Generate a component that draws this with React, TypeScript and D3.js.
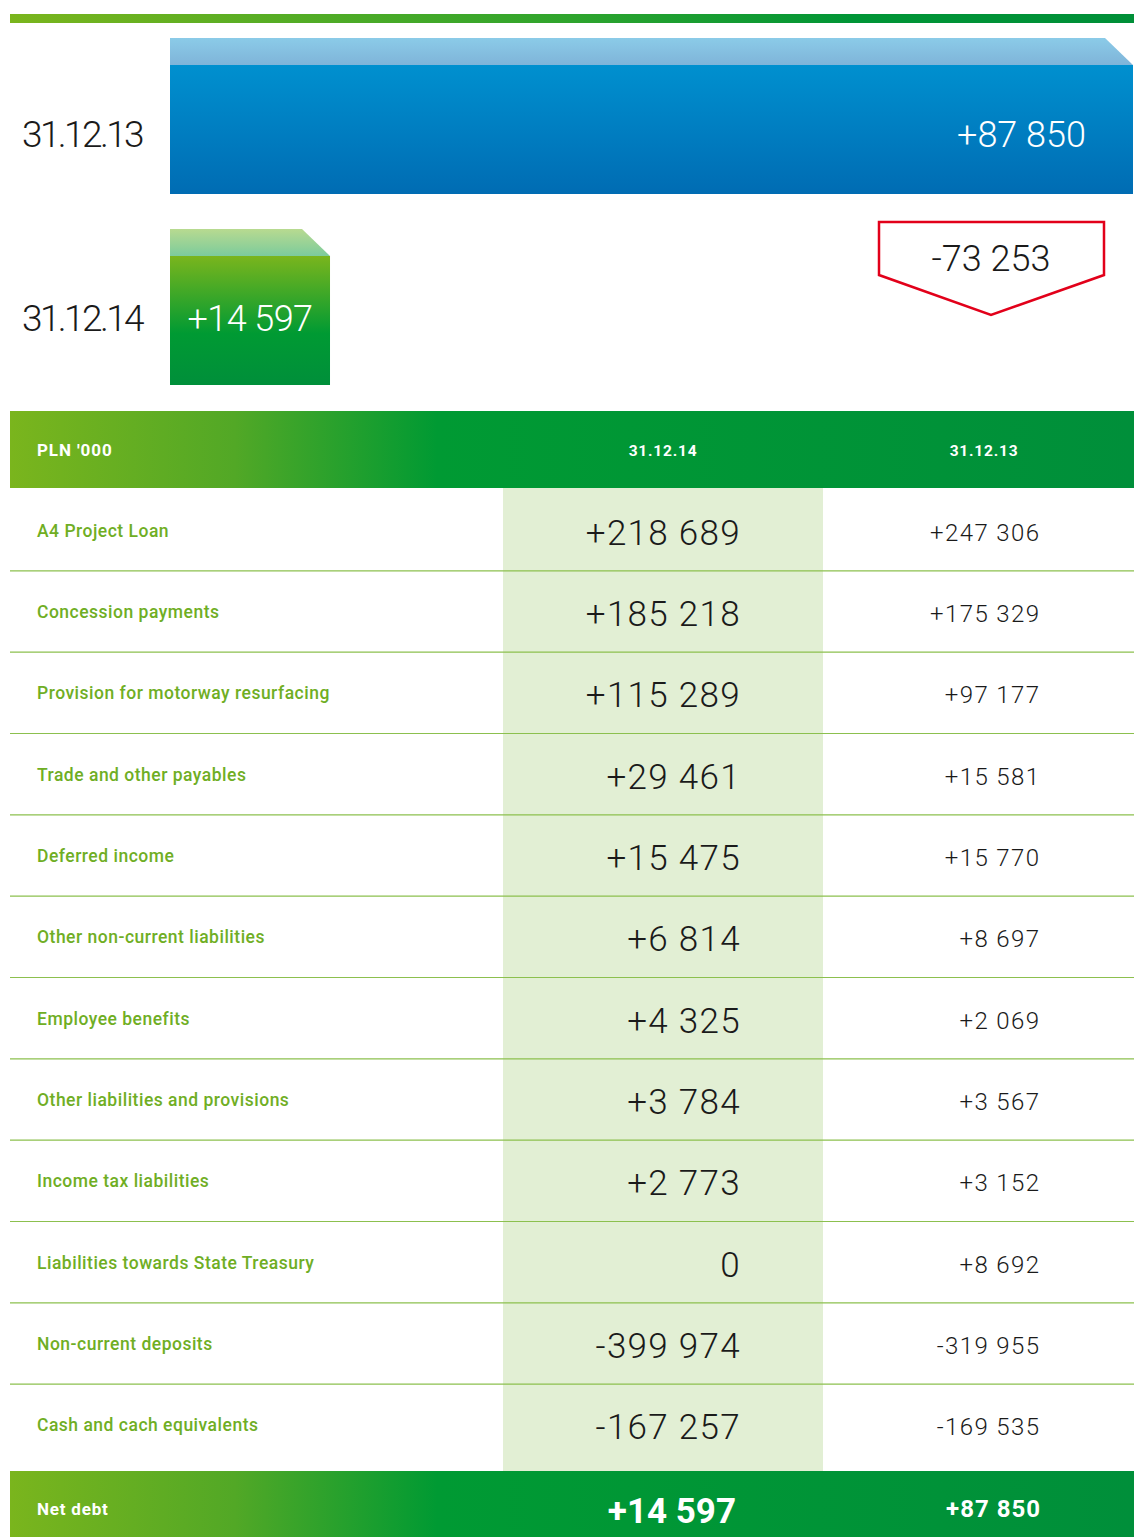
import React from "react";
import * as d3 from "d3";

const barDates = ["31.12.13", "31.12.14"];
const barValues = [87850, 14597];
const changeLabel = "-73 253";

const rowLabels = [
  "A4 Project Loan",
  "Concession payments",
  "Provision for motorway resurfacing",
  "Trade and other payables",
  "Deferred income",
  "Other non-current liabilities",
  "Employee benefits",
  "Other liabilities and provisions",
  "Income tax liabilities",
  "Liabilities towards State Treasury",
  "Non-current deposits",
  "Cash and cach equivalents",
];
const values2014 = ["+218 689", "+185 218", "+115 289", "+29 461", "+15 475", "+6 814", "+4 325", "+3 784", "+2 773", "0", "-399 974", "-167 257"];
const values2013 = ["+247 306", "+175 329", "+97 177", "+15 581", "+15 770", "+8 697", "+2 069", "+3 567", "+3 152", "+8 692", "-319 955", "-169 535"];
const headerLabels = ["PLN '000", "31.12.14", "31.12.13"];
const totalLabel = "Net debt";
const totals = ["+14 597", "+87 850"];

const FONT = "Roboto, 'Noto Sans', sans-serif";

export default function App() {
  const W = 1134, H = 1537;
  const x = d3.scaleLinear().domain([0, 87850]).range([170, 1133]);
  const barY = [65, 256];
  const dateBase = [82, 75];
  const barH = 129;
  const capH = 27;
  const capSlant = 28;
  const rows = d3.scaleBand<number>().domain(d3.range(rowLabels.length)).range([489.5, 1465.5]);
  const fmt = (v: number) => "+" + d3.format(",")(v).replace(",", " ");

  return (
    <svg width={W} height={H} style={{ position: "absolute", left: 0, top: 0 }} fontFamily={FONT}>
      <defs>
        <linearGradient id="stripe" x1="0" x2="1" y1="0" y2="0">
          <stop offset="0" stopColor="#7ab51d" />
          <stop offset="0.5" stopColor="#2ea42d" />
          <stop offset="0.75" stopColor="#009536" />
          <stop offset="1" stopColor="#008f38" />
        </linearGradient>
        <linearGradient id="hdr" gradientUnits="userSpaceOnUse" x1="10" x2="1134" y1="0" y2="0">
          <stop offset="0" stopColor="#7ab51d" />
          <stop offset="0.2" stopColor="#52a826" />
          <stop offset="0.38" stopColor="#009a33" />
          <stop offset="1" stopColor="#008f3a" />
        </linearGradient>
        <linearGradient id="blue" x1="0" x2="0" y1="0" y2="1">
          <stop offset="0" stopColor="#0090cf" />
          <stop offset="1" stopColor="#006cb3" />
        </linearGradient>
        <linearGradient id="bluecap" x1="0" x2="0" y1="0" y2="1">
          <stop offset="0" stopColor="#8bcbe8" />
          <stop offset="1" stopColor="#7fb4d9" />
        </linearGradient>
        <linearGradient id="green" x1="0" x2="0" y1="0" y2="1">
          <stop offset="0" stopColor="#7ab51d" />
          <stop offset="0.6" stopColor="#009a33" />
          <stop offset="1" stopColor="#008f3a" />
        </linearGradient>
        <linearGradient id="greencap" x1="0" x2="0" y1="0" y2="1">
          <stop offset="0" stopColor="#b8da90" />
          <stop offset="1" stopColor="#7ccb9c" />
        </linearGradient>
      </defs>

      <rect x={10} y={14} width={1124} height={9} fill="url(#stripe)" />

      {barValues.map((v, i) => {
        const x0 = x(0), x1 = x(v), y0 = barY[i];
        const cap = `M${x0},${y0 - capH}L${x1 - capSlant},${y0 - capH}L${x1},${y0}L${x0},${y0}Z`;
        const blue = i === 0;
        return (
          <g key={i}>
            <path d={cap} fill={blue ? "url(#bluecap)" : "url(#greencap)"} />
            <rect x={x0} y={y0} width={x1 - x0} height={barH} fill={blue ? "url(#blue)" : "url(#green)"} />
            <text x={22} y={y0 + dateBase[i]} fontSize={37} fill="#1a1a1a" fontWeight={300} letterSpacing={-2.6}>{barDates[i]}</text>
            <text
              x={blue ? x1 - 47 : (x0 + x1) / 2}
              y={y0 + dateBase[i]}
              fontSize={36}
              fill="#fff"
              fontWeight={300}
              textAnchor={blue ? "end" : "middle"}
              letterSpacing={blue ? 0 : -0.6}
            >
              {fmt(v)}
            </text>
          </g>
        );
      })}

      <path d="M879,222L1104,222L1104,275L991,315L879,275Z" fill="#fff" stroke="#e2001a" strokeWidth={2.5} />
      <text x={991} y={271} fontSize={36} fontWeight={300} textAnchor="middle" fill="#1a1a1a">{changeLabel}</text>

      <rect x={10} y={411} width={1124} height={77} fill="url(#hdr)" />
      <text x={37} y={456} fontSize={17} fontWeight={700} fill="#fff" letterSpacing={0.9}>{headerLabels[0]}</text>
      <text x={663} y={456} fontSize={15.5} fontWeight={700} fill="#fff" textAnchor="middle" letterSpacing={0.8}>{headerLabels[1]}</text>
      <text x={984} y={456} fontSize={15.5} fontWeight={700} fill="#fff" textAnchor="middle" letterSpacing={0.8}>{headerLabels[2]}</text>

      <rect x={503} y={488} width={320} height={983} fill="#e2efd4" />

      {rowLabels.map((lab, i) => {
        const y0 = rows(i)!;
        const bw = rows.bandwidth();
        return (
          <g key={lab}>
            <text x={37} y={y0 + 47} fontSize={17.5} fontWeight={500} fill="#6fae24" letterSpacing={0.5}>{lab}</text>
            <text x={741} y={y0 + 55} fontSize={35} fontWeight={300} fill="#1a1a1a" textAnchor="end" letterSpacing={1.3}>{values2014[i]}</text>
            <text x={1040.5} y={y0 + 51} fontSize={24} fontWeight={300} fill="#1a1a1a" textAnchor="end" letterSpacing={1.4}>{values2013[i]}</text>
            {i < rowLabels.length - 1 && (
              <line x1={10} x2={1134} y1={y0 + bw} y2={y0 + bw} stroke="#8cc04e" strokeWidth={1.2} />
            )}
          </g>
        );
      })}

      <rect x={10} y={1471} width={1124} height={66} fill="url(#hdr)" />
      <text x={37} y={1515} fontSize={17} fontWeight={700} fill="#fff" letterSpacing={0.8}>{totalLabel}</text>
      <text x={736} y={1523} fontSize={35} fontWeight={700} fill="#fff" textAnchor="end">{totals[0]}</text>
      <text x={1041} y={1517} fontSize={24} fontWeight={700} fill="#fff" textAnchor="end" letterSpacing={1}>{totals[1]}</text>
    </svg>
  );
}
